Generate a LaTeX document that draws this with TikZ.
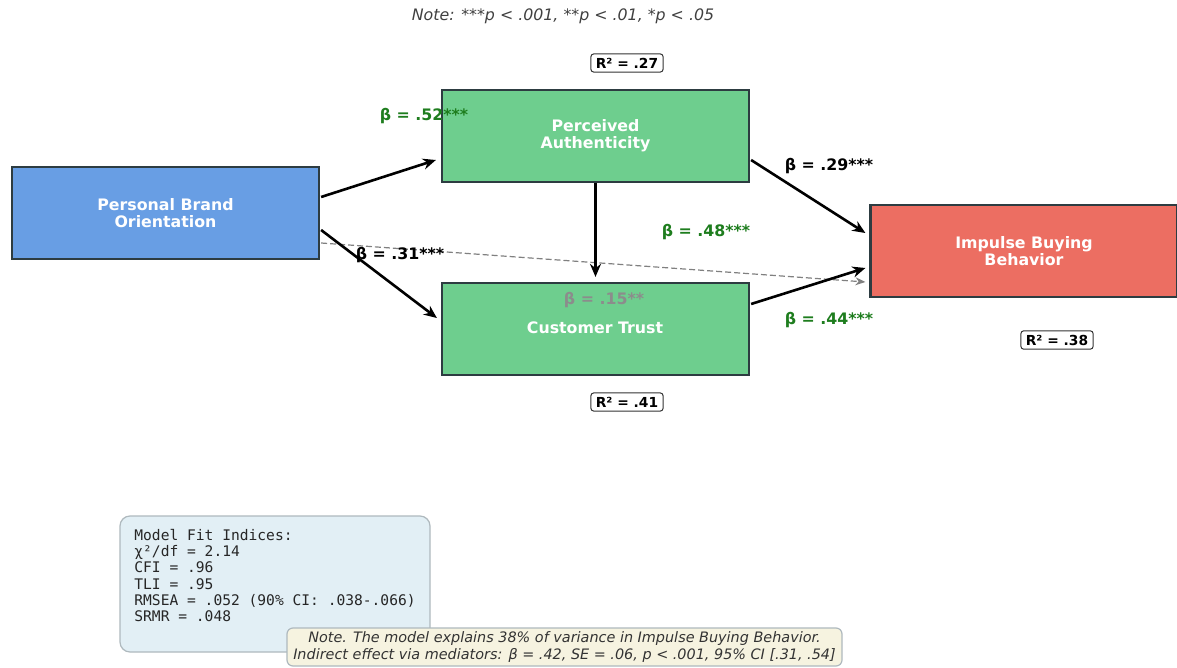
\documentclass[tikz,border=0pt]{standalone}
\usepackage{fontspec}
\setmainfont{DejaVu Sans}
\setmonofont{DejaVu Sans Mono}
\usetikzlibrary{calc,arrows.meta}
\definecolor{pbocol}{RGB}{104,158,228}
\definecolor{medcol}{RGB}{110,206,142}
\definecolor{ibbcol}{RGB}{236,110,98}
\definecolor{edgecol}{RGB}{45,60,65}
\definecolor{betagreen}{RGB}{30,125,30}
\definecolor{fitfill}{RGB}{226,239,245}
\definecolor{notefill}{RGB}{246,243,224}
\definecolor{boxgray}{RGB}{175,185,190}
\tikzset{
  varbox/.style={draw=edgecol, line width=1.1pt, minimum width=153.5pt, minimum height=46pt,
    text=white, font=\fontsize{7.9}{8.7}\selectfont\bfseries, align=center, inner sep=0pt},
  patharrow/.style={-{Stealth[length=6.5pt,width=5.5pt]}, line width=1.3pt, black},
  dpatharrow/.style={-{Stealth[length=5pt,width=4pt]}, line width=0.6pt, gray, dash pattern=on 3pt off 1.5pt},
  betalab/.style={font=\fontsize{7.9}{9}\selectfont\bfseries, inner sep=1pt},
  rsq/.style={draw=black!80, fill=white, rounded corners=1.5pt, line width=0.5pt,
    font=\fontsize{6.9}{8}\selectfont\bfseries, inner xsep=2.5pt, inner ysep=2pt},
}
\begin{document}
\begin{tikzpicture}[x=0.5pt,y=-0.5pt]
\useasboundingbox (0,0) rectangle (1177,668);
\fill[white] (0,0) rectangle (1177,668);

% title note
\node[font=\fontsize{7.9}{9}\selectfont\itshape, text=black!75] (topnote) at (563,16)
  {Note: ***p < .001, **p < .01, *p < .05};

% variables
\node[varbox, fill=pbocol] (pbo) at (165.5,213) {Personal Brand\\Orientation};
\node[varbox, fill=medcol] (pa) at (595.5,136) {Perceived\\Authenticity};
\node[varbox, fill=medcol] (ct) at (595.5,329) {};
\node[varbox, fill=ibbcol] (ibb) at (1024,251) {Impulse Buying\\Behavior};
\node[text=white, font=\fontsize{7.9}{8.7}\selectfont\bfseries] (ctlab) at (595,328) {Customer Trust};

% paths
\draw[dpatharrow] ($(pbo.east)+(1,30)$) -- ($(ibb.west)+(-4,31)$);
\draw[patharrow] ($(pbo.east)+(1,-16)$) -- ($(pa.west)+(-5,24)$);
\draw[patharrow] ($(pbo.east)+(1,17)$) -- ($(ct.west)+(-4,-11)$);
\draw[patharrow] (pa.south) -- ($(ct.north)+(0,-5)$);
\draw[patharrow] ($(pa.east)+(1,24)$) -- ($(ibb.west)+(-4,-18)$);
\draw[patharrow] ($(ct.east)+(1,-25)$) -- ($(ibb.west)+(-4,17)$);

% coefficients
\node[betalab, text=betagreen] (b52) at (424,116) {β = .52***};
\node[betalab, text=black] (b29) at (829,166) {β = .29***};
\node[betalab, text=betagreen] (b48) at (706,232) {β = .48***};
\node[betalab, text=black] (b31) at (400,255) {β = .31***};
\node[betalab, text=black!45] (b15) at (604,300) {β = .15**};
\node[betalab, text=betagreen] (b44) at (829,320) {β = .44***};

% R squared
\node[rsq] (r27) at (627,63) {R² = .27};
\node[rsq] (r41) at (627,402) {R² = .41};
\node[rsq] (r38) at (1057,340) {R² = .38};

% model fit box
\draw[draw=boxgray, fill=fitfill, rounded corners=5pt, line width=0.6pt] (120,516) rectangle (430,652);
\node[anchor=north west, align=left, inner sep=0pt, font=\fontsize{7.3}{8.1}\ttfamily, text=black!85] (fit) at (134,529)
  {Model Fit Indices:\\χ²/df = 2.14\\CFI = .96\\TLI = .95\\RMSEA = .052 (90\% CI: .038-.066)\\SRMR = .048};

% bottom note
\node[draw=boxgray, fill=notefill, rounded corners=3pt, line width=0.6pt, align=center,
  font=\fontsize{7.2}{8.5}\selectfont\itshape, text=black!80, minimum width=277.5pt, minimum height=19pt, inner sep=0.5pt] (bnote) at (564.5,647)
  {Note. The model explains 38\% of variance in Impulse Buying Behavior.\\Indirect effect via mediators: β = .42, SE = .06, p < .001, 95\% CI [.31, .54]};
\end{tikzpicture}
\end{document}
